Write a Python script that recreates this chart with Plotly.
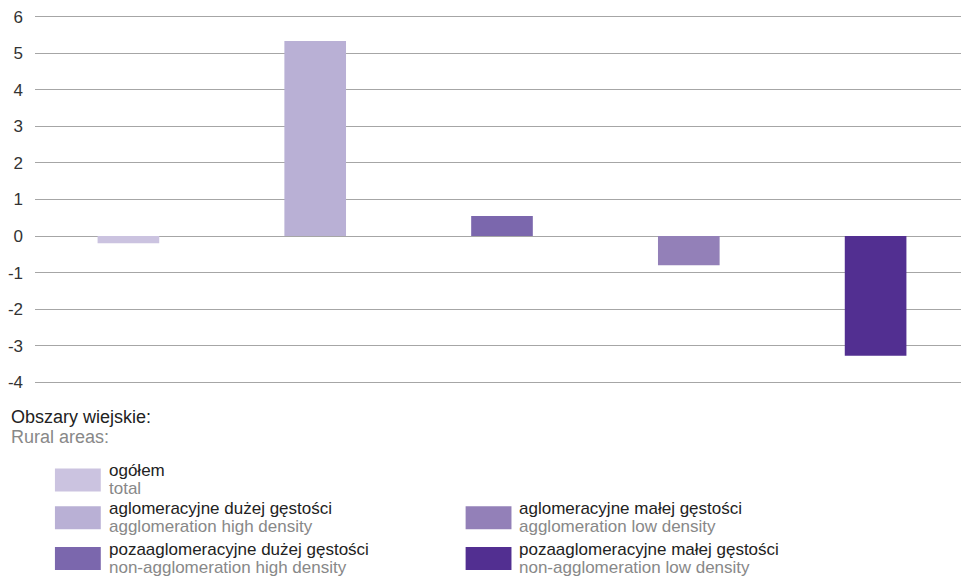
import plotly.graph_objects as go

categories = [
    "ogółem",
    "aglomeracyjne dużej gęstości",
    "pozaaglomeracyjne dużej gęstości",
    "aglomeracyjne małej gęstości",
    "pozaaglomeracyjne małej gęstości",
]
categories_en = [
    "total",
    "agglomeration high density",
    "non-agglomeration high density",
    "agglomeration low density",
    "non-agglomeration low density",
]
values = [-0.2, 5.34, 0.55, -0.8, -3.28]
colors = ["#cbc3e0", "#b9b0d5", "#7b67ad", "#9380b8", "#522f91"]
y_ticks = [-4, -3, -2, -1, 0, 1, 2, 3, 4, 5, 6]

# page body adds 8px, so the figure is a bit smaller than the window
W, H = 961, 571
L, T, B = 24, 5, 195
PW, PH = W - L, H - T - B


def px(x):
    # window pixel -> paper x
    return (x - 8 - L) / PW


def py(y):
    # window pixel -> paper y
    return (T + PH - (y - 8)) / PH


fig = go.Figure()
fig.add_trace(
    go.Bar(
        x=categories,
        y=values,
        marker=dict(color=colors, line=dict(width=0)),
        width=0.33,
        showlegend=False,
    )
)

# legend drawn by hand: two columns, Polish name over English name
def label(x, y, text, color, size=17):
    fig.add_annotation(x=px(x), y=py(y), xref="paper", yref="paper", text=text,
                       xanchor="left", yanchor="middle", showarrow=False,
                       borderpad=0, font=dict(color=color, size=size))


label(7, 417, "Obszary wiejskie:", "#222222", 18)
label(7, 437, "Rural areas:", "#888888", 18)
slots = [(52, 469), (52, 507), (52, 548), (464, 507), (464, 548)]
for (sx, sy), pl, en, col in zip(slots, categories, categories_en, colors):
    fig.add_shape(type="rect", xref="paper", yref="paper",
                  x0=px(sx), x1=px(sx + 46), y0=py(sy + 23), y1=py(sy),
                  fillcolor=col, line=dict(width=0))
    label(sx + 53, sy + 2, pl, "#222222")
    label(sx + 53, sy + 20, en, "#888888")

fig.update_layout(
    width=W,
    height=H,
    margin=dict(l=L, r=0, t=T, b=B),
    plot_bgcolor="white",
    paper_bgcolor="white",
    font=dict(family="Liberation Sans, Arial, sans-serif", size=17, color="#333333"),
)
fig.update_xaxes(showticklabels=False, showgrid=False, showline=False, zeroline=False)
fig.update_yaxes(
    range=[-4.05, 6.05],
    tickvals=y_ticks,
    ticktext=[str(v) for v in y_ticks],
    showgrid=True,
    gridcolor="#a6a6a6",
    gridwidth=1,
    zeroline=True,
    zerolinecolor="#a6a6a6",
    zerolinewidth=1,
    showline=False,
    ticklabelstandoff=11,
    ticklabeloverflow="allow",
)

fig.write_html("out.html")
